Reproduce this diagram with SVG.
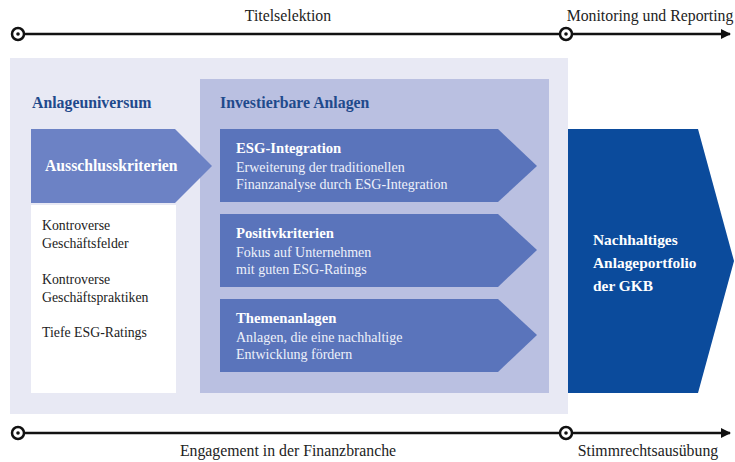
<svg xmlns="http://www.w3.org/2000/svg" width="735" height="462" viewBox="0 0 735 462">
<defs>
<marker id="arr" viewBox="0 0 10 10" refX="9" refY="5" markerWidth="4" markerHeight="4" markerUnits="strokeWidth" orient="auto">
<path d="M0,0 L10,5 L0,10 z" fill="#111"/>
</marker>
<style>
.axis{stroke:#111;stroke-width:2.5;fill:none}
.dotc{fill:#fff;stroke:#111;stroke-width:2.5}
.dot{fill:#111}
.lbl{font-family:"Liberation Serif","Times New Roman",serif;font-size:15.8px;fill:#222}
.head{font-family:"Liberation Serif",serif;font-weight:bold;font-size:15.8px;fill:#1f4a8c}
.ttl{font-family:"Liberation Serif",serif;font-weight:bold;font-size:14.7px;fill:#fff}
.sub{font-family:"Liberation Serif",serif;font-size:14px;fill:#eef1fa}
.item{font-family:"Liberation Serif",serif;font-size:13.8px;fill:#222}
.arrA{fill:#6c82c5}
.arrB{fill:#5a74bb}
</style>
</defs>
<rect x="10" y="58" width="558" height="356" fill="#e8e9f4"/>
<rect x="200" y="79" width="349" height="314" fill="#bac0e1"/>
<text class="head" x="32" y="108">Anlageuniversum</text>
<text class="head" x="220" y="108">Investierbare Anlagen</text>
<g id="ausschluss">
<polygon class="arrA" points="31,129 175,129 212,166 175,203 31,203"/>
<text class="ttl" x="45" y="171" style="font-size:15.7px">Ausschlusskriterien</text>
</g>
<g id="kriterien">
<rect x="31" y="205" width="145" height="188" fill="#fff"/>
<text class="item" x="42" y="230">Kontroverse</text>
<text class="item" x="42" y="248">Geschäftsfelder</text>
<text class="item" x="42" y="284">Kontroverse</text>
<text class="item" x="42" y="302">Geschäftspraktiken</text>
<text class="item" x="42" y="337">Tiefe ESG-Ratings</text>
</g>
<g id="esg">
<polygon class="arrB" points="220,129 498,129 537,166 498,202 220,202"/>
<text class="ttl" x="236" y="153">ESG-Integration</text>
<text class="sub" x="236" y="172">Erweiterung der traditionellen</text>
<text class="sub" x="236" y="189">Finanzanalyse durch ESG-Integration</text>
</g>
<g id="positiv">
<polygon class="arrB" points="220,214 498,214 537,250 498,287 220,287"/>
<text class="ttl" x="236" y="238">Positivkriterien</text>
<text class="sub" x="236" y="257">Fokus auf Unternehmen</text>
<text class="sub" x="236" y="274">mit guten ESG-Ratings</text>
</g>
<g id="themen">
<polygon class="arrB" points="220,299 498,299 537,335 498,372 220,372"/>
<text class="ttl" x="236" y="323">Themenanlagen</text>
<text class="sub" x="236" y="342">Anlagen, die eine nachhaltige</text>
<text class="sub" x="236" y="359">Entwicklung fördern</text>
</g>
<g id="portfolio">
<polygon points="568,129 698,129 734,261 698,393 568,393" fill="#0b4b9c"/>
<text class="ttl" x="593" y="245" style="font-size:15.4px">Nachhaltiges</text>
<text class="ttl" x="593" y="268" style="font-size:15.4px">Anlageportfolio</text>
<text class="ttl" x="593" y="291" style="font-size:15.4px">der GKB</text>
</g>
<g id="connectors">
<line class="axis" x1="18" y1="34" x2="730" y2="34" marker-end="url(#arr)"/>
<line class="axis" x1="18" y1="433" x2="730" y2="433" marker-end="url(#arr)"/>
<circle class="dotc" cx="18" cy="34" r="6"/><circle class="dot" cx="18" cy="34" r="1.8"/>
<circle class="dotc" cx="566" cy="34" r="6"/><circle class="dot" cx="566" cy="34" r="1.8"/>
<circle class="dotc" cx="18" cy="433" r="6"/><circle class="dot" cx="18" cy="433" r="1.8"/>
<circle class="dotc" cx="566" cy="433" r="6"/><circle class="dot" cx="566" cy="433" r="1.8"/>
</g>
<text class="lbl" x="288" y="21" text-anchor="middle">Titelselektion</text>
<text class="lbl" x="650" y="21" text-anchor="middle">Monitoring und Reporting</text>
<text class="lbl" x="288" y="456" text-anchor="middle">Engagement in der Finanzbranche</text>
<text class="lbl" x="648" y="456" text-anchor="middle">Stimmrechtsausübung</text>
</svg>
